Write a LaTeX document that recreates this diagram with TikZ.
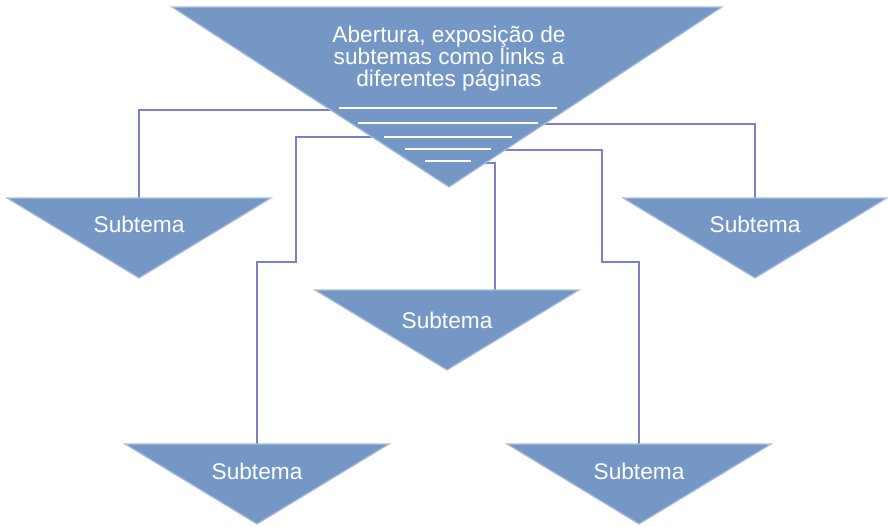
\documentclass[tikz,border=0pt]{standalone}
\usepackage{fontspec}
\setmainfont{Liberation Sans}
\usetikzlibrary{backgrounds}
\definecolor{tri-blue}{RGB}{117,151,197}
\definecolor{tri-edge}{RGB}{170,190,220}
\definecolor{link-blue}{RGB}{124,128,196}
\tikzset{
    tri-shape/.style = {fill=tri-blue, draw=tri-edge, line width=0.9pt},
    tri-text/.style = {text=white, font=\fontsize{17}{16.5}\selectfont, inner sep=0pt},
    main-text/.style = {tri-text, align=center},
    link-line/.style = {draw=link-blue, line width=1.3pt},
    bar-line/.style = {draw=white, line width=1.5pt},
}

\begin{document}
\begin{tikzpicture}[x=0.75pt, y=-0.75pt]
\useasboundingbox (0,0) rectangle (888,526);
\filldraw[tri-shape] (172,7) -- (722,7) -- (449,187) -- cycle;
\coordinate (main-tip) at (449,187);
\node[main-text] (main) at (449,59) {Abertura, exposição de\\subtemas como links a\\diferentes páginas};
\foreach \y/\w in {108/109, 123/90, 137/64, 149/43, 161/23}
    \draw[bar-line] (448-\w,\y) -- (448+\w,\y);

\foreach \nm/\x/\y/\dy in {left/139/198/26, right/755/198/26, mid/447/290/30, botleft/257/444/27, botright/639/444/27} {
    \coordinate (sub-\nm-top) at (\x,\y);
    \filldraw[tri-shape] (\x-132,\y) -- (\x+132,\y) -- (\x,\y+80) -- cycle;
    \node[tri-text] (sub-\nm) at (\x,\y+\dy) {Subtema};
}
\coordinate (mid-link) at (495,290);

\begin{scope}[on background layer]
\draw[link-line] (main-tip |- 0,110) -| (sub-left-top);
\draw[link-line] (main-tip |- 0,124) -| (sub-right-top);
\draw[link-line] (main-tip |- 0,137) -| (296,262) -| (sub-botleft-top);
\draw[link-line] (main-tip |- 0,150) -| (602,262) -| (sub-botright-top);
\draw[link-line] (main-tip |- 0,163) -| (mid-link);
\end{scope}
\end{tikzpicture}
\end{document}
